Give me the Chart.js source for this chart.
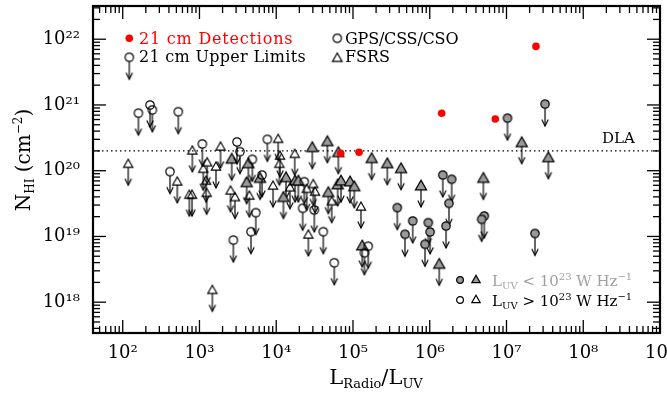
<!DOCTYPE html>
<html><head><meta charset="utf-8">
<script src="https://cdn.jsdelivr.net/npm/chart.js@4.4.0/dist/chart.umd.min.js"></script>
<style>html,body{margin:0;padding:0;background:#fff}</style>
</head><body>
<canvas id="c" width="667" height="400"></canvas>
<script>
// ---- axis ticks ----
const xTickValues = [1e2,1e3,1e4,1e5,1e6,1e7,1e8,1e9];
const xTickLabels = ['10²','10³','10⁴','10⁵','10⁶','10⁷','10⁸','10⁹'];
const yTickValues = [1e18,1e19,1e20,1e21,1e22];
const yTickLabels = ['10¹⁸','10¹⁹','10²⁰','10²¹','10²²'];
const dlaLevel = 2e20;

// ---- 21 cm detections ----
const detX = [6.92e4,1.20e5,1.43e6,7.15e6,2.42e7];
const detY = [1.84e20,1.91e20,7.48e20,6.12e20,7.77e21];

// ---- upper limits: GPS/CSS/CSO, L_UV > 1e23 (open circles) ----
const gpsHiX = [1.60e2,2.27e2,2.43e2,5.3e2,4.13e2,1.09e3,3.08e3,3.37e3,4.88e3,7.66e3,6.53e3,5.41e3,4.69e3,2.76e3,2.32e4,2.21e4,3.13e4,4.1e4,5.71e4,1.58e5,1.41e5];
const gpsHiY = [7.5e20,1.0e21,8.4e20,7.9e20,9.7e19,2.55e20,2.74e20,1.95e20,1.49e20,3.0e20,8.6e19,2.3e19,1.18e19,8.8e18,6.8e19,2.68e19,2.52e19,1.18e19,3.98e18,7.1e18,5.65e18];

// ---- upper limits: GPS/CSS/CSO, L_UV < 1e23 (grey circles) ----
const gpsLoX = [1.03e7,3.18e7,1.48e6,1.93e6,1.78e6,1.63e6,3.78e5,6.0e5,4.76e5,9.57e5,1.01e6,8.67e5,5.14e6,4.75e6,2.35e7];
const gpsLoY = [6.3e20,1.03e21,8.6e19,7.4e19,3.19e19,1.44e19,2.74e19,1.72e19,1.08e19,1.62e19,1.17e19,7.6e18,2.05e19,1.82e19,1.11e19];

// ---- upper limits: FSRS, L_UV > 1e23 (open triangles) ----
const fsrsHiX = [1.18e2,5.14e2,7.38e2,8.0e2,8.07e2,1.12e3,1.26e3,1.64e3,1.88e3,1.22e3,1.24e3,2.54e3,2.9e3,4.46e3,1.47e3,1.06e4,1.12e4,1.10e4,1.74e4,1.51e4,2.49e4,3.04e4,3.2e4,5.28e4,2.62e4,1.27e5,9.08e3];
const fsrsHiY = [1.30e20,7.0e19,4.4e19,4.4e19,2.07e20,1.09e20,1.37e20,1.18e20,2.38e20,7.2e19,4.7e19,5.1e19,4.05e19,4.27e19,1.57e18,3.11e20,1.73e20,1.30e20,1.84e20,5.7e19,5.4e19,6.4e19,4.9e19,3.5e19,1.09e19,2.9e19,6.05e19];

// ---- upper limits: FSRS, L_UV < 1e23 (grey triangles) ----
const fsrsLoX = [2.63e3,4.33e3,4.12e3,6.15e3,1.34e4,1.24e4,1.76e4,1.94e4,2.95e4,4.63e4,6.44e4,4.77e4,6.32e4,6.98e4,9.15e4,1.04e5,1.32e5,1.75e5,2.8e5,4.23e5,7.69e5,1.33e6,4.99e6,1.58e7,3.51e7];
const fsrsLoY = [1.55e20,1.32e20,6.8e19,7.9e19,8.1e19,4.05e19,7.2e19,7.2e19,2.32e20,2.86e20,1.95e20,4.8e19,6.3e19,7.2e19,7.0e19,5.9e19,7.4e18,1.58e20,1.32e20,1.11e20,6.05e19,3.9e18,7.9e19,2.76e20,1.63e20];

const FONT = '"DejaVu Serif"';
const GREY = '#999999';
const ARROW = 22;

function pts(xs, ys){ return xs.map((v,i)=>({x:v, y:ys[i]})); }

function marker(shape, fill, half, arrow){
  const c = document.createElement('canvas');
  c.width = 20; c.height = arrow ? 2*(ARROW+3) : 20;
  const g = c.getContext('2d');
  const cx = 10, cy = c.height/2;
  g.strokeStyle = '#000'; g.lineWidth = 1.2; g.lineJoin='miter';
  const h = half*1.75;
  if (arrow){
    g.beginPath();
    g.moveTo(cx, cy + (shape==='circle'? half : h/2));
    g.lineTo(cx, cy+ARROW);
    g.stroke();
    g.beginPath();
    g.moveTo(cx-3.2, cy+ARROW-6.5); g.lineTo(cx, cy+ARROW); g.lineTo(cx+3.2, cy+ARROW-6.5);
    g.stroke();
  }
  g.beginPath();
  if (shape==='circle') g.arc(cx, cy, half, 0, Math.PI*2);
  else { g.moveTo(cx, cy-h/2); g.lineTo(cx+half, cy+h/2); g.lineTo(cx-half, cy+h/2); g.closePath(); }
  if (fill){ g.fillStyle = fill; g.fill(); }
  g.stroke();
  return c;
}

const mOpenCirc = marker('circle', null, 4.2, true);
const mGreyCirc = marker('circle', GREY, 4.2, true);
const mOpenTri = marker('tri', null, 4.6, true);
const mGreyTri = marker('tri', GREY, 5.6, true);

function rich(ctx, parts, x, y, align, color, spacing){
  ctx.letterSpacing = (spacing||0)+'px';
  let w = 0;
  parts.forEach(p=>{ ctx.font = p.s+'px '+FONT; p.w = ctx.measureText(p.t).width; w += p.w; });
  let cx = align==='center' ? x - w/2 : x;
  ctx.fillStyle = color; ctx.textBaseline = 'alphabetic'; ctx.textAlign = 'left';
  parts.forEach(p=>{ ctx.font = p.s+'px '+FONT; ctx.fillText(p.t, cx, y + (p.dy||0)); cx += p.w; });
  ctx.letterSpacing = '0px';
}

const decor = {
  id: 'decor',
  afterDraw(chart){
    const {ctx, chartArea:a, scales:{x, y}} = chart;
    ctx.save();
    ctx.strokeStyle = '#000'; ctx.lineWidth = 1.3;
    const line = (x1,y1,x2,y2)=>{ ctx.beginPath(); ctx.moveTo(x1,y1); ctx.lineTo(x2,y2); ctx.stroke(); };
    for (let d=1; d<=9; d++) for (let m=1; m<=9; m++){
      const v = m*Math.pow(10,d);
      if (v < x.min || v > x.max) continue;
      const px = x.getPixelForValue(v), L = m===1 ? 13 : 7;
      line(px, a.bottom, px, a.bottom-L); line(px, a.top, px, a.top+L);
    }
    for (let d=17; d<=22; d++) for (let m=1; m<=9; m++){
      const v = m*Math.pow(10,d);
      if (v < y.min || v > y.max) continue;
      const py = y.getPixelForValue(v), L = m===1 ? 13 : 7;
      line(a.left, py, a.left+L, py); line(a.right, py, a.right-L, py);
    }
    ctx.lineWidth = 2.2;
    ctx.strokeRect(a.left, a.top, a.right-a.left, a.bottom-a.top);

    // DLA label
    rich(ctx, [{t:'DLA', s:15}], 602, 143, 'left', '#000');

    // top legend
    ctx.fillStyle = '#ff0000';
    ctx.beginPath(); ctx.arc(129.3, 38.3, 3.8, 0, Math.PI*2); ctx.fill();
    rich(ctx, [{t:'21 cm Detections', s:16}], 139, 43.5, 'left', '#ff0000', 0.8);
    ctx.drawImage(mOpenCirc, 129.3-10, 57.3-mOpenCirc.height/2);
    rich(ctx, [{t:'21 cm Upper Limits', s:16}], 139, 62, 'left', '#000', 0.3);
    const oc = marker('circle', null, 4.2, false);
    ctx.drawImage(oc, 337.3-10, 38.3-10);
    rich(ctx, [{t:'GPS/CSS/CSO', s:16}], 345, 43.5, 'left', '#000', -0.2);
    const ot = marker('tri', null, 4.8, false);
    ctx.drawImage(ot, 337.3-10, 57.3-10);
    rich(ctx, [{t:'FSRS', s:16}], 345, 62, 'left', '#000');

    // bottom-right legend
    ctx.drawImage(marker('circle', GREY, 3.4, false), 460-10, 280-10);
    ctx.drawImage(marker('tri', GREY, 4.2, false), 476-10, 279-10);
    ctx.drawImage(marker('circle', null, 3.4, false), 460-10, 300-10);
    ctx.drawImage(marker('tri', null, 4.2, false), 476-10, 299-10);
    rich(ctx, [{t:'L',s:15},{t:'UV',s:10,dy:3},{t:' < 10',s:15},{t:'23',s:10,dy:-6},{t:' W Hz',s:15},{t:'−1',s:10,dy:-6}], 492, 286, 'left', '#a0a0a0');
    rich(ctx, [{t:'L',s:15},{t:'UV',s:10,dy:3},{t:' > 10',s:15},{t:'23',s:10,dy:-6},{t:' W Hz',s:15},{t:'−1',s:10,dy:-6}], 492, 306, 'left', '#000');

    // axis titles
    rich(ctx, [{t:'L',s:21},{t:'Radio',s:13,dy:4},{t:'/',s:21},{t:'L',s:21},{t:'UV',s:13,dy:4}], 376, 384, 'center', '#000');
    ctx.save();
    ctx.translate(30, 160); ctx.rotate(-Math.PI/2);
    rich(ctx, [{t:'N',s:20},{t:'HI',s:12,dy:4},{t:' (cm',s:20},{t:'−2',s:12,dy:-8},{t:')',s:20}], 0, 0, 'center', '#000');
    ctx.restore();
    ctx.restore();
  }
};

new Chart(document.getElementById('c'), {
  type: 'scatter',
  data: {
    datasets: [
      {label:'21 cm Detections', data: pts(detX, detY), pointStyle:'circle', pointRadius:3.8, backgroundColor:'#ff0000', borderWidth:0},
      {label:'GPS hi', data: pts(gpsHiX, gpsHiY), pointStyle:mOpenCirc, pointRadius:5},
      {label:'FSRS hi', data: pts(fsrsHiX, fsrsHiY), pointStyle:mOpenTri, pointRadius:5},
      {label:'GPS lo', data: pts(gpsLoX, gpsLoY), pointStyle:mGreyCirc, pointRadius:5},
      {label:'FSRS lo', data: pts(fsrsLoX, fsrsLoY), pointStyle:mGreyTri, pointRadius:5},
      {label:'DLA', data:[{x:41, y:dlaLevel},{x:1e9, y:dlaLevel}], showLine:true, borderColor:'#000', borderWidth:1.1, borderDash:[1.5,3], pointRadius:0}
    ]
  },
  options: {
    responsive:false, animation:false,
    layout:{padding:{left:0, right:7, top:6, bottom:0}},
    plugins:{legend:{display:false}, tooltip:{enabled:false}},
    scales:{
      x:{type:'logarithmic', min:41, max:1e9,
        grid:{display:false, drawTicks:false}, border:{display:false},
        afterBuildTicks:s=>{ s.ticks = xTickValues.map(v=>({value:v})); },
        afterFit:s=>{ s.height = 67; s.paddingLeft=0; s.paddingRight=0; },
        ticks:{autoSkip:false, maxRotation:0, padding:10, color:'#000', font:{family:'DejaVu Serif', size:18},
          callback:(v)=>{ const i = xTickValues.indexOf(v); return i>=0 ? xTickLabels[i] : ''; }}
      },
      y:{type:'logarithmic', min:3.4e17, max:3.2e22,
        grid:{display:false, drawTicks:false}, border:{display:false},
        afterBuildTicks:s=>{ s.ticks = yTickValues.map(v=>({value:v})); },
        afterFit:s=>{ s.width = 93; s.paddingTop=0; s.paddingBottom=0; },
        ticks:{autoSkip:false, padding:13, color:'#000', font:{family:'DejaVu Serif', size:18},
          callback:(v)=>{ const i = yTickValues.indexOf(v); return i>=0 ? yTickLabels[i] : ''; }}
      }
    }
  },
  plugins:[decor]
});
</script>
</body></html>
